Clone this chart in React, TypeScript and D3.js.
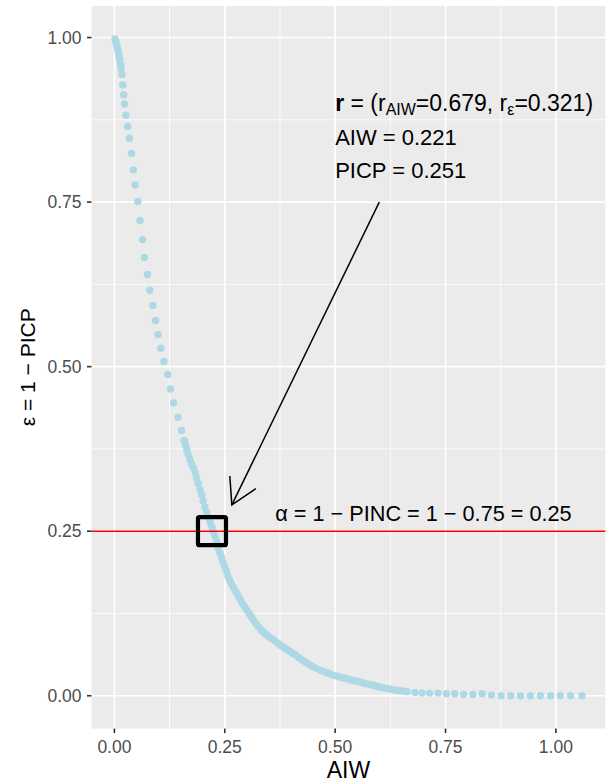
import React, { useEffect, useRef } from "react";
import * as d3 from "d3";

// ==========================
// Data
// ==========================
const aiw = [
  0.001, 0.003, 0.004, 0.006, 0.007, 0.009, 0.010, 0.012, 0.014, 0.015,
  0.017, 0.019, 0.021, 0.023, 0.026, 0.030, 0.034, 0.039, 0.043, 0.047,
  0.053, 0.058, 0.064, 0.068, 0.075, 0.080, 0.087, 0.093, 0.099, 0.105,
  0.112, 0.121, 0.127, 0.134, 0.144, 0.152, 0.158,
  0.161, 0.164, 0.167, 0.171, 0.175, 0.179, 0.183, 0.186, 0.190, 0.194,
  0.198, 0.201, 0.205, 0.209, 0.213, 0.217, 0.221, 0.224, 0.228, 0.232,
  0.235, 0.239, 0.243, 0.246, 0.250, 0.254, 0.257, 0.261,
  0.265, 0.270, 0.275, 0.280, 0.285, 0.290, 0.295, 0.300, 0.305, 0.310,
  0.315, 0.320, 0.326, 0.332, 0.337, 0.342, 0.348, 0.353, 0.359, 0.364,
  0.370, 0.375, 0.382,
  0.389, 0.396, 0.403, 0.410, 0.418, 0.426, 0.433, 0.440, 0.448, 0.456,
  0.466, 0.474, 0.481, 0.489, 0.496, 0.504, 0.512, 0.519, 0.527, 0.535,
  0.542, 0.550, 0.557, 0.565, 0.572, 0.580, 0.587, 0.595, 0.602, 0.610,
  0.617, 0.625, 0.633, 0.640, 0.647, 0.655, 0.663,
  0.681, 0.697, 0.714, 0.733, 0.752, 0.771, 0.791, 0.812, 0.833, 0.854,
  0.876, 0.898, 0.920, 0.942, 0.965, 0.988, 1.010, 1.033, 1.059
];

const eps = [
  0.998, 0.995, 0.991, 0.987, 0.983, 0.978, 0.973, 0.967, 0.959, 0.953,
  0.944, 0.928, 0.913, 0.899, 0.882, 0.865, 0.847, 0.824, 0.799, 0.776,
  0.751, 0.722, 0.693, 0.666, 0.640, 0.616, 0.593, 0.570, 0.549, 0.528,
  0.508, 0.488, 0.466, 0.445, 0.423, 0.403, 0.388,
  0.381, 0.374, 0.367, 0.359, 0.352, 0.346, 0.339, 0.331, 0.322, 0.313,
  0.305, 0.296, 0.287, 0.279, 0.271, 0.263, 0.256, 0.249, 0.242, 0.234,
  0.225, 0.217, 0.210, 0.203, 0.196, 0.189, 0.182, 0.176,
  0.170, 0.164, 0.158, 0.152, 0.146, 0.140, 0.135, 0.130, 0.125, 0.120,
  0.115, 0.110, 0.105, 0.100, 0.097, 0.094, 0.091, 0.088, 0.086, 0.083,
  0.080, 0.077, 0.074,
  0.071, 0.068, 0.065, 0.062, 0.058, 0.054, 0.051, 0.048, 0.045, 0.042,
  0.039, 0.037, 0.035, 0.033, 0.031, 0.030, 0.028, 0.027, 0.026, 0.024,
  0.023, 0.022, 0.021, 0.019, 0.018, 0.017, 0.016, 0.014, 0.013, 0.012,
  0.011, 0.010, 0.009, 0.008, 0.008, 0.007, 0.006,
  0.005, 0.004, 0.004, 0.004, 0.003, 0.003, 0.002, 0.002, 0.003, 0.001,
  0.000, 0.000, 0.000, 0.000, 0.000, 0.000, 0.000, 0.000, 0.000
];

const xTicks = [0, 0.25, 0.5, 0.75, 1];
const yTicks = [0, 0.25, 0.5, 0.75, 1];
const xMinor = [0.125, 0.375, 0.625, 0.875];
const yMinor = [0.125, 0.375, 0.625, 0.875];

const alphaLevel = 0.25;
const selected = { aiw: 0.221, eps: 0.25 };
const arrowFrom = { x: 0.6, y: 0.75 };
const arrowTo = { x: 0.266, y: 0.29 };
const labelPos = { x: 0.5, y: 0.889 };
const alphaPos = { x: 0.7, y: 0.265 };

const infoLines = ["AIW = 0.221", "PICP = 0.251"];
const alphaLabel = "α = 1 − PINC = 1 − 0.75 = 0.25";

const FONT = "'Liberation Sans', Arial, Helvetica, sans-serif";

export default function App() {
  const ref = useRef<SVGSVGElement | null>(null);

  useEffect(() => {
    document.body.style.margin = "0";
    const svg = d3.select(ref.current);
    svg.selectAll("*").remove();

    const width = 608;
    const height = 783;
    const margin = { top: 6, right: 2.7, bottom: 54.4, left: 91.5 };

    // ==========================
    // Scales (ggplot style 5% expansion)
    // ==========================
    const [x0, x1] = d3.extent(aiw) as [number, number];
    const [y0, y1] = d3.extent(eps) as [number, number];
    const xs = d3.scaleLinear()
      .domain([x0 - 0.05 * (x1 - x0), x1 + 0.05 * (x1 - x0)])
      .range([margin.left, width - margin.right]);
    const ys = d3.scaleLinear()
      .domain([y0 - 0.05 * (y1 - y0), y1 + 0.05 * (y1 - y0)])
      .range([height - margin.bottom, margin.top]);

    const pl = margin.left, pr = width - margin.right;
    const pt = margin.top, pb = height - margin.bottom;

    // ==========================
    // Panel + grid
    // ==========================
    svg.append("rect")
      .attr("x", pl).attr("y", pt)
      .attr("width", pr - pl).attr("height", pb - pt)
      .attr("fill", "#EBEBEB");

    const grid = svg.append("g").attr("stroke", "#fff").attr("fill", "none");
    xMinor.forEach(v => grid.append("line")
      .attr("x1", xs(v)).attr("x2", xs(v)).attr("y1", pt).attr("y2", pb)
      .attr("stroke-width", 0.8));
    yMinor.forEach(v => grid.append("line")
      .attr("y1", ys(v)).attr("y2", ys(v)).attr("x1", pl).attr("x2", pr)
      .attr("stroke-width", 0.8));
    xTicks.forEach(v => grid.append("line")
      .attr("x1", xs(v)).attr("x2", xs(v)).attr("y1", pt).attr("y2", pb)
      .attr("stroke-width", 1.6));
    yTicks.forEach(v => grid.append("line")
      .attr("y1", ys(v)).attr("y2", ys(v)).attr("x1", pl).attr("x2", pr)
      .attr("stroke-width", 1.6));

    // ==========================
    // Points
    // ==========================
    svg.append("g")
      .selectAll("circle")
      .data(aiw.map((a, i) => ({ a, e: eps[i] })))
      .enter()
      .append("circle")
      .attr("cx", d => xs(d.a))
      .attr("cy", d => ys(d.e))
      .attr("r", 3.7)
      .attr("fill", "#ADD8E6");

    // alpha line
    svg.append("line")
      .attr("x1", pl).attr("x2", pr)
      .attr("y1", ys(alphaLevel)).attr("y2", ys(alphaLevel))
      .attr("stroke", "#FF0000").attr("stroke-width", 1.6);

    // selected box
    const bs = 28;
    svg.append("rect")
      .attr("x", xs(selected.aiw) - bs / 2)
      .attr("y", ys(selected.eps) - bs / 2)
      .attr("width", bs).attr("height", bs)
      .attr("rx", 1.5)
      .attr("fill", "none").attr("stroke", "#000").attr("stroke-width", 4.2);

    // ==========================
    // Arrow
    // ==========================
    const ax0 = xs(arrowFrom.x), ay0 = ys(arrowFrom.y);
    const ax1 = xs(arrowTo.x), ay1 = ys(arrowTo.y);
    const ang = Math.atan2(ay0 - ay1, ax0 - ax1);
    const headLen = 29;
    const headAng = Math.PI / 6;
    const arrow = svg.append("g")
      .attr("stroke", "#000").attr("stroke-width", 1.5)
      .attr("fill", "none").attr("stroke-linecap", "butt");
    arrow.append("line")
      .attr("x1", ax0).attr("y1", ay0).attr("x2", ax1).attr("y2", ay1);
    arrow.append("path")
      .attr("d", `M${ax1 + headLen * Math.cos(ang + headAng)},${ay1 + headLen * Math.sin(ang + headAng)}` +
        `L${ax1},${ay1}` +
        `L${ax1 + headLen * Math.cos(ang - headAng)},${ay1 + headLen * Math.sin(ang - headAng)}`);

    // ==========================
    // Annotation text
    // ==========================
    const lx = xs(labelPos.x);
    const ly = ys(labelPos.y);
    const t1 = svg.append("text")
      .attr("x", lx).attr("y", ly)
      .attr("font-family", FONT).attr("font-size", 23).attr("fill", "#000");
    t1.append("tspan").attr("font-weight", "bold").text("r");
    t1.append("tspan").text(" = (r");
    t1.append("tspan").attr("font-size", 16).attr("dy", 4).text("AIW");
    t1.append("tspan").attr("dy", -4).text("=0.679, r");
    t1.append("tspan").attr("font-size", 16).attr("dy", 4).text("ε");
    t1.append("tspan").attr("dy", -4).text("=0.321)");

    infoLines.forEach((s, i) => {
      svg.append("text")
        .attr("x", lx).attr("y", ly + 34 + i * 33)
        .attr("font-family", FONT).attr("font-size", 22).attr("fill", "#000")
        .text(s);
    });

    svg.append("text")
      .attr("x", xs(alphaPos.x)).attr("y", ys(alphaPos.y))
      .attr("text-anchor", "middle")
      .attr("font-family", FONT).attr("font-size", 21.7).attr("fill", "#000")
      .text(alphaLabel);

    // ==========================
    // Axes
    // ==========================
    const axes = svg.append("g").attr("font-family", FONT);
    xTicks.forEach(v => {
      axes.append("line")
        .attr("x1", xs(v)).attr("x2", xs(v)).attr("y1", pb).attr("y2", pb + 4.5)
        .attr("stroke", "#333").attr("stroke-width", 1.6);
      axes.append("text")
        .attr("x", xs(v)).attr("y", pb + 24)
        .attr("text-anchor", "middle").attr("font-size", 17.5).attr("fill", "#4D4D4D")
        .text(d3.format(".2f")(v));
    });
    yTicks.forEach(v => {
      axes.append("line")
        .attr("x1", pl - 4.5).attr("x2", pl).attr("y1", ys(v)).attr("y2", ys(v))
        .attr("stroke", "#333").attr("stroke-width", 1.6);
      axes.append("text")
        .attr("x", pl - 10).attr("y", ys(v)).attr("dy", "0.35em")
        .attr("text-anchor", "end").attr("font-size", 17.5).attr("fill", "#4D4D4D")
        .text(d3.format(".2f")(v));
    });

    axes.append("text")
      .attr("x", (pl + pr) / 2).attr("y", 778)
      .attr("text-anchor", "middle").attr("font-size", 23).attr("fill", "#000")
      .text("AIW");

    axes.append("text")
      .attr("transform", `translate(35,${(pt + pb) / 2}) rotate(-90)`)
      .attr("text-anchor", "middle").attr("font-size", 21).attr("fill", "#000")
      .text("ε = 1 − PICP");
  }, []);

  return (
    <svg ref={ref} width={608} height={783} style={{ display: "block" }} />
  );
}
